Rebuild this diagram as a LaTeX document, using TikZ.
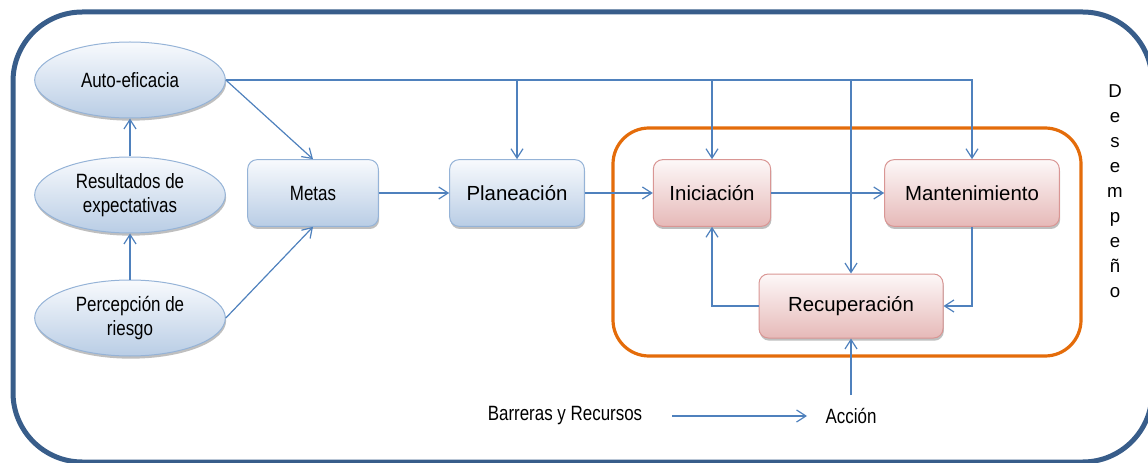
\documentclass[tikz,border=0pt]{standalone}
\usepackage{fontspec}
\setmainfont{Liberation Sans}
\newfontfamily\narrowfont[FakeStretch=0.82]{Liberation Sans}
\usetikzlibrary{arrows.meta,shadows,shapes.geometric}
\definecolor{frameblue}{HTML}{385D8A}
\definecolor{linkblue}{HTML}{4F81BD}
\definecolor{orangeb}{HTML}{E46C0A}
\definecolor{bluetop}{HTML}{F8FAFD}
\definecolor{bluebot}{HTML}{B9CDE5}
\definecolor{blueedge}{HTML}{95B3D7}
\definecolor{redtop}{HTML}{FDF8F8}
\definecolor{redbot}{HTML}{E6B9B8}
\definecolor{rededge}{HTML}{D99694}
\tikzset{
  oval/.style={ellipse, draw=blueedge, line width=0.75pt, top color=bluetop, bottom color=bluebot,
    minimum width=143pt, minimum height=57pt, inner sep=0pt, align=center,
    font=\narrowfont\fontsize{15.5pt}{18pt}\selectfont,
    drop shadow={shadow xshift=0.6pt, shadow yshift=-2pt, fill=black, opacity=0.25}},
  bluebox/.style={rectangle, rounded corners=7pt, draw=blueedge, line width=0.75pt,
    top color=bluetop, bottom color=bluebot, minimum height=50pt, inner sep=0pt,
    drop shadow={shadow xshift=0.6pt, shadow yshift=-2pt, fill=black, opacity=0.25}},
  redbox/.style={rectangle, rounded corners=7pt, draw=rededge, line width=0.75pt,
    top color=redtop, bottom color=redbot, minimum height=50pt, inner sep=0pt,
    font=\fontsize{15.3pt}{18pt}\selectfont,
    drop shadow={shadow xshift=0.6pt, shadow yshift=-2pt, fill=black, opacity=0.25}},
  link/.style={draw=linkblue, line width=0.9pt, -{Straight Barb[length=7pt,width=9pt]}},
  lbl/.style={inner sep=0pt, font=\narrowfont\fontsize{15.5pt}{18pt}\selectfont}
}
\begin{document}
\begin{tikzpicture}[x=0.75pt,y=-0.75pt]
\useasboundingbox (0,0) rectangle (1148,463);
% outer frame
\draw[frameblue, line width=3.75pt, rounded corners=52pt] (13,12) rectangle (1152,462);
% orange group
\draw[orangeb, line width=2.4pt, rounded corners=27pt] (613,128) rectangle (1081,356);

% nodes
\node[oval] (auto) at (130,80) {Auto-eficacia};
\node[oval] (res) at (130,195) {Resultados de\\expectativas};
\node[oval] (perc) at (130,318) {Percepción de\\riesgo};
\node[bluebox, minimum width=98pt, font=\narrowfont\fontsize{15.5pt}{18pt}\selectfont] (metas) at (313,193) {Metas};
\node[bluebox, minimum width=101pt, font=\fontsize{15.3pt}{18pt}\selectfont] (plan) at (517,193) {Planeación};
\node[redbox, minimum width=88pt] (ini) at (712,193) {Iniciación};
\node[redbox, minimum width=131pt] (mant) at (972,193) {Mantenimiento};
\node[redbox, minimum width=138pt, minimum height=48pt] (recu) at (851,306) {Recuperación};

\node[lbl] (barr) at (565,416) {Barreras y Recursos};
\node[lbl] (acc) at (851,416) {Acción};
\node[inner sep=0pt, align=center, font=\fontsize{14pt}{18.8pt}\selectfont] (desem) at (1115,191)
  {D\\e\\s\\e\\m\\p\\e\\ñ\\o};

% connectors
\draw[link] (res.north) -- (auto.south);
\draw[link] (perc.north) -- (res.south);
\draw[link] (auto.east) -- (metas.north);
\draw[link] (perc.east) -- (metas.south);
\draw[link] (metas.east) -- (plan.west);
\draw[link] (plan.east) -- (ini.west);
\draw[link] (ini.east) -- (mant.west);
\draw[link] (auto.east) -| (mant.north);
\draw[link] (auto.east -| plan.north) -- (plan.north);
\draw[link] (auto.east -| ini.north) -- (ini.north);
\draw[link] (auto.east -| recu.north) -- (recu.north);
\draw[link] (mant.south) |- (recu.east);
\draw[link] (recu.west) -| (ini.south);
\coordinate (accfoot) at (851,395);
\draw[link] (accfoot) -- (recu.south);
\coordinate (ba) at (672,416);
\coordinate (bb) at (807,416);
\draw[link] (ba) -- (bb);
\end{tikzpicture}
\end{document}
